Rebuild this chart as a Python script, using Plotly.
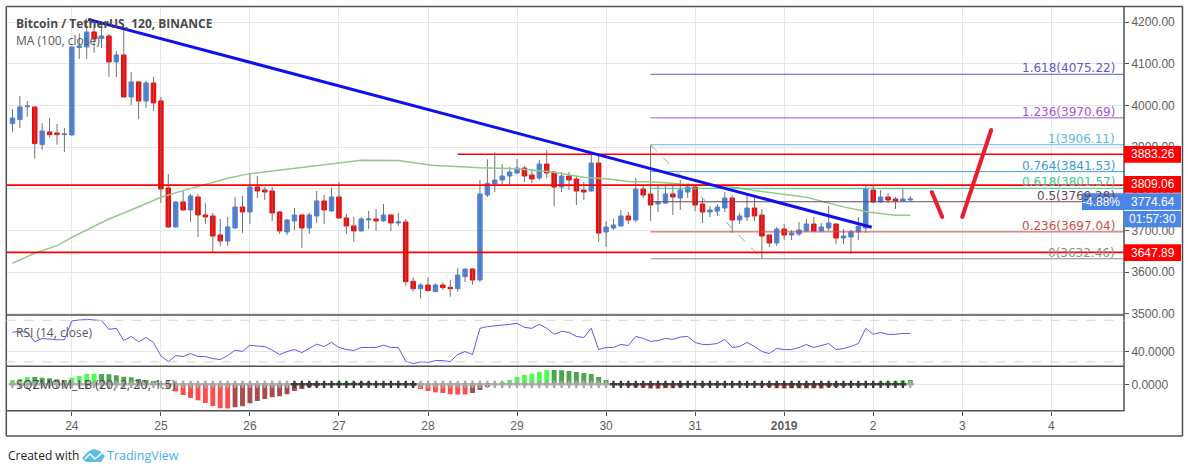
import pandas as pd
import plotly.graph_objects as go

# 2 hour candles
opens = [3956.8, 3966.4, 3997.6, 3996.8, 3906.4, 3936.8, 3934.4, 3930.4, 3929.6, 4139.2, 4140.8, 4176.8, 4160.8, 4167.2, 4104.8, 4121.6, 4020.8, 4056.8, 4011.2, 4054.4,
         4011.2, 3802.4, 3708.8, 3768.8, 3749.6, 3780.8, 3737.6, 3735.2, 3689.6, 3675.2, 3706.4, 3756.8, 3744.8, 3804.8, 3797.6, 3795.2, 3744.8, 3696.8, 3723.2, 3737.6,
         3706.4, 3735.2, 3771.2, 3747.2, 3780.8, 3730.4, 3711.2, 3699.2, 3725.6, 3728.0, 3723.2, 3737.6, 3718.4, 3720.7, 3578.3, 3560.7, 3569.5, 3553.5, 3569.5, 3563.9,
         3560.7, 3589.5, 3607.9, 3581.5, 3785.5, 3811.9, 3821.5, 3831.1, 3838.3, 3850.3, 3833.5, 3826.3, 3859.9, 3840.7, 3804.7, 3831.1, 3823.9, 3797.5, 3795.1, 3862.3,
         3696.7, 3706.3, 3711.1, 3735.1, 3725.5, 3799.9, 3787.9, 3763.9, 3766.3, 3787.9, 3778.3, 3792.7, 3804.7, 3763.9, 3744.7, 3747.1, 3754.3, 3778.3, 3725.5, 3732.7,
         3754.3, 3737.5, 3689.5, 3670.3, 3703.9, 3689.5, 3691.9, 3699.1, 3715.9, 3699.1, 3706.3, 3715.9, 3682.3, 3684.7, 3696.7, 3706.3, 3797.5, 3768.7, 3780.7, 3775.9,
         3771.1, 3773.5]
highs = [3992.0, 4023.2, 4011.2, 3998.0, 3957.6, 3970.4, 3956.0, 3946.4, 4142.0, 4173.6, 4209.6, 4193.6, 4196.0, 4172.0, 4131.2, 4181.6, 4080.8, 4059.2, 4059.2, 4068.8,
         4020.8, 3836.0, 3770.0, 3795.2, 3788.0, 3788.0, 3766.4, 3742.4, 3728.0, 3732.8, 3780.8, 3783.2, 3837.6, 3831.2, 3804.8, 3804.8, 3747.2, 3728.0, 3754.4, 3738.5,
         3742.4, 3795.2, 3785.6, 3802.4, 3816.8, 3740.0, 3732.8, 3732.8, 3747.2, 3752.0, 3764.0, 3738.5, 3742.4, 3727.9, 3587.9, 3573.5, 3587.9, 3573.5, 3575.9, 3581.5,
         3609.5, 3609.0, 3609.5, 3821.5, 3871.1, 3887.9, 3859.9, 3852.7, 3871.9, 3855.1, 3847.9, 3869.5, 3893.5, 3842.0, 3840.7, 3840.7, 3831.1, 3816.7, 3881.5, 3885.5,
         3723.1, 3727.9, 3749.5, 3744.7, 3826.3, 3809.5, 3905.5, 3809.5, 3809.5, 3809.5, 3821.5, 3811.9, 3811.9, 3778.3, 3759.1, 3763.9, 3792.7, 3785.5, 3742.3, 3785.5,
         3778.3, 3751.9, 3690.5, 3708.7, 3715.9, 3701.5, 3720.7, 3727.9, 3732.7, 3718.3, 3759.1, 3717.0, 3703.9, 3701.5, 3732.7, 3809.5, 3809.5, 3797.5, 3790.3, 3780.7,
         3802.3, 3783.1]
lows = [3936.8, 3946.4, 3973.6, 3872.8, 3894.4, 3923.2, 3906.4, 3888.8, 3928.0, 4112.0, 4112.0, 4127.2, 4138.4, 4068.8, 4068.8, 4020.0, 4001.6, 3968.0, 3994.4, 3987.2,
        3766.4, 3706.4, 3707.0, 3748.0, 3720.8, 3684.8, 3716.0, 3648.8, 3663.2, 3663.2, 3705.0, 3694.4, 3716.0, 3778.4, 3773.6, 3723.2, 3692.0, 3689.6, 3701.6, 3658.4,
        3692.0, 3718.4, 3716.0, 3746.0, 3728.0, 3692.0, 3672.8, 3698.0, 3704.0, 3699.2, 3722.0, 3699.2, 3711.2, 3567.9, 3553.5, 3536.7, 3553.5, 3552.5, 3557.5, 3541.5,
        3553.5, 3576.7, 3570.3, 3577.5, 3780.7, 3792.7, 3811.9, 3807.1, 3835.9, 3816.7, 3814.3, 3821.5, 3826.3, 3759.1, 3792.7, 3797.5, 3761.5, 3773.5, 3794.0, 3672.7,
        3660.7, 3701.5, 3710.0, 3715.9, 3720.7, 3778.3, 3723.1, 3744.7, 3764.0, 3737.5, 3749.5, 3778.3, 3747.1, 3718.3, 3732.7, 3735.1, 3744.7, 3694.3, 3715.9, 3723.1,
        3723.1, 3631.9, 3660.7, 3663.1, 3677.5, 3677.5, 3687.1, 3698.0, 3698.0, 3698.0, 3699.1, 3667.9, 3667.9, 3643.9, 3677.5, 3694.3, 3766.3, 3767.5, 3766.3, 3751.9,
        3770.0, 3771.1]
closes = [3970.4, 3996.8, 3999.2, 3908.8, 3939.2, 3930.4, 3930.4, 3932.0, 4140.8, 4143.2, 4176.8, 4160.0, 4167.2, 4104.8, 4121.6, 4020.8, 4056.8, 4011.2, 4054.4, 4006.4,
          3800.0, 3708.8, 3768.8, 3749.6, 3783.2, 3737.6, 3732.8, 3687.2, 3675.2, 3708.8, 3756.8, 3744.8, 3804.8, 3795.2, 3792.8, 3742.4, 3699.2, 3725.6, 3737.6, 3706.4,
          3737.6, 3771.2, 3749.6, 3780.8, 3730.4, 3711.2, 3699.2, 3728.0, 3728.0, 3723.2, 3737.6, 3718.4, 3720.8, 3577.5, 3560.7, 3569.5, 3555.9, 3569.5, 3563.1, 3560.7,
          3593.5, 3607.9, 3581.5, 3787.9, 3813.5, 3821.5, 3831.1, 3840.7, 3850.3, 3831.1, 3823.9, 3859.9, 3838.3, 3804.7, 3831.1, 3821.5, 3795.1, 3792.7, 3862.3, 3694.3,
          3708.7, 3713.5, 3735.1, 3725.5, 3799.9, 3785.5, 3761.5, 3768.7, 3787.9, 3780.7, 3797.5, 3804.7, 3761.5, 3744.7, 3749.5, 3756.7, 3778.3, 3725.5, 3735.1, 3754.3,
          3735.1, 3687.1, 3670.3, 3703.9, 3689.5, 3694.3, 3701.5, 3715.9, 3699.1, 3708.7, 3718.3, 3682.3, 3687.1, 3696.7, 3710.3, 3799.9, 3768.7, 3780.7, 3773.5, 3771.1,
          3775.9, 3775.9]

# MA (100) read at the bends of the line
ma_times = ['2018-12-23 08:00', '2018-12-23 14:00', '2018-12-23 20:00', '2018-12-24 00:00', '2018-12-24 04:00', '2018-12-24 10:00', '2018-12-24 16:00',
            '2018-12-25 00:00', '2018-12-25 06:00', '2018-12-25 12:00', '2018-12-25 18:00', '2018-12-26 00:00', '2018-12-26 12:00', '2018-12-27 02:00',
            '2018-12-27 06:00', '2018-12-27 16:00', '2018-12-28 01:00', '2018-12-28 14:00', '2018-12-29 00:00', '2018-12-29 09:00', '2018-12-29 18:00',
            '2018-12-30 00:00', '2018-12-30 06:00', '2018-12-30 13:00', '2018-12-30 20:00', '2018-12-31 08:00', '2018-12-31 17:00', '2019-01-01 06:00',
            '2019-01-01 16:00', '2019-01-01 23:00', '2019-01-02 06:00', '2019-01-02 10:00']
ma_values = [3621.6, 3645.6, 3664.0, 3684.0, 3701.6, 3728.0, 3749.6, 3780.0, 3796.0, 3811.0, 3825.6, 3836.8, 3849.6, 3865.6, 3868.8, 3868.0,
             3856.7, 3851.0, 3848.7, 3841.5, 3828.0, 3824.7, 3818.0, 3816.7, 3812.0, 3807.0, 3795.0, 3780.0, 3757.0, 3744.0, 3737.0, 3737.0]

rsi_values = [58.4, 59.7, 58.1, 49.4, 52.6, 51.6, 51.3, 51.3, 69.4, 70.3, 71.0, 70.3, 69.7, 61.3, 62.3, 50.6, 54.5, 49.4, 53.5, 48.7,
              35.8, 30.3, 36.1, 35.2, 38.1, 35.2, 35.2, 33.2, 32.3, 36.1, 41.3, 40.0, 46.1, 45.2, 44.8, 41.3, 37.1, 40.0, 41.9, 39.0,
              42.9, 47.1, 44.8, 48.7, 43.9, 41.9, 41.0, 43.9, 43.9, 43.9, 46.1, 43.9, 43.9, 30.6, 28.4, 30.0, 29.4, 31.3, 31.3, 30.3,
              37.1, 40.0, 37.1, 62.3, 63.9, 64.5, 64.8, 66.1, 67.1, 63.2, 62.3, 66.1, 62.3, 56.5, 59.4, 58.4, 54.5, 53.5, 62.3, 41.9,
              43.9, 43.9, 46.8, 45.8, 54.5, 52.6, 49.7, 50.6, 52.6, 51.6, 53.9, 54.5, 48.7, 46.8, 46.8, 47.7, 51.6, 43.9, 44.8, 48.7,
              44.8, 40.0, 38.1, 42.9, 41.9, 41.9, 43.9, 46.8, 43.9, 45.5, 47.7, 41.9, 42.9, 44.8, 47.7, 62.3, 56.5, 58.4, 56.5, 56.5,
              57.4, 57.4]

sqz_values = [43, 53, 73, 73, 66, 60, 50, 43, 66, 83, 103, 105, 102, 100, 90, 76, 70, 53, 43, 33,
              10, -33, -73, -107, -137, -160, -187, -217, -240, -243, -230, -220, -190, -167, -147, -130, -120, -100, -67, -47,
              -30, -20, 3, 10, 15, 20, 19, 15, 13, 10, 8, 6, 3, -3, -20, -47, -67, -80, -87, -100,
              -102, -103, -87, -57, -27, 3, 23, 43, 73, 93, 103, 123, 143, 142, 141, 133, 123, 113, 103, 73,
              43, 3, -3, -20, -33, -34, -43, -44, -37, -40, -30, -10, -7, -15, -7, -5, -5, -4, -4, -4,
              -4, -20, -30, -40, -43, -40, -40, -40, -40, -43, -30, -27, -20, -10, -15, -4, 4, 23, 27, 33,
              43, 43]
# first and last bar of each stretch with black crosses
squeeze_on = [(38, 54), (81, 120)]

tick_times = ['2018-12-24', '2018-12-25', '2018-12-26', '2018-12-27', '2018-12-28', '2018-12-29', '2018-12-30', '2018-12-31',
              '2019-01-01', '2019-01-02', '2019-01-03', '2019-01-04']
tick_labels = ['24', '25', '26', '27', '28', '29', '30', '31', '<b>2019</b>', '2', '3', '4']

fib_start = '2018-12-30 12:00'
fib_low_time = '2018-12-31 18:00'
fib_levels = [1.618, 1.236, 1, 0.764, 0.618, 0.5, 0.236, 0]
fib_prices = [4075.22, 3970.69, 3906.11, 3841.53, 3801.57, 3769.28, 3697.04, 3632.46]
fib_colors = ['#5a5acb', '#a653d6', '#62b7e0', '#3c9cd6', '#3fc78f', '#6a4658', '#d24a4a', '#8c8c8c']

x_start = '2018-12-23 06:20'
x_end = '2019-01-04 19:36'
level_times = ['2018-12-28 08:00', x_start, x_start]
level_prices = [3883.26, 3809.06, 3647.89]
trend_times = ['2018-12-24 04:24', '2019-01-01 23:36']
trend_prices = [4207, 3708]
down_times = ['2019-01-02 15:48', '2019-01-02 18:36']
down_prices = [3792.7, 3732.7]
up_times = ['2019-01-03 00:00', '2019-01-03 07:48']
up_prices = [3732.7, 3941.5]

UP = '#4a86e8'
DOWN = '#ff0000'
WICK = '#737375'
GRID = '#e6e6e6'
FRAME = '#505050'
AXIS_TEXT = '#5e5e5e'
W, H = 1188, 467


def px(x):
    return x / W


def py(y):
    return 1 - y / H


times = pd.date_range('2018-12-23 08:00', periods=len(closes), freq='2h')

fig = go.Figure()

# wicks, grey, separate from the bodies
wick_x, wick_y = [], []
for t, h, l in zip(times, highs, lows):
    wick_x += [t, t, None]
    wick_y += [l, h, None]
fig.add_trace(go.Scatter(x=wick_x, y=wick_y, mode='lines', line=dict(color=WICK, width=1)))

body_top = [max(o, c) for o, c in zip(opens, closes)]
body_bottom = [min(o, c) for o, c in zip(opens, closes)]
fig.add_trace(go.Candlestick(
    x=times, open=opens, high=body_top, low=body_bottom, close=closes, whiskerwidth=0,
    increasing=dict(line=dict(color=UP, width=1), fillcolor=UP),
    decreasing=dict(line=dict(color=DOWN, width=1), fillcolor=DOWN),
))
fig.add_trace(go.Scatter(x=ma_times, y=ma_values, mode='lines', line=dict(color='#93c98a', width=1.5)))

# fibonacci levels
for price, color in zip(fib_prices, fib_colors):
    fig.add_trace(go.Scatter(x=[fib_start, x_end], y=[price, price], mode='lines', line=dict(color=color, width=1)))
fig.add_trace(go.Scatter(x=[fib_start, fib_low_time], y=[fib_prices[2], fib_prices[-1]], mode='lines',
                         line=dict(color='#a0a0a0', width=1, dash='dash')))

for t, price in zip(level_times, level_prices):
    fig.add_trace(go.Scatter(x=[t, x_end], y=[price, price], mode='lines', line=dict(color='#ff0000', width=1.7)))
fig.add_trace(go.Scatter(x=trend_times, y=trend_prices, mode='lines', line=dict(color='#1010ee', width=3)))
for xs, ys in [(down_times, down_prices), (up_times, up_prices)]:
    fig.add_trace(go.Scatter(x=xs, y=ys, mode='lines+markers', line=dict(color='#e8202c', width=4),
                             marker=dict(color='#e8202c', size=4)))

# RSI pane
fig.add_trace(go.Scatter(x=times, y=rsi_values, yaxis='y2', mode='lines', line=dict(color='#5a5af5', width=1)))

# squeeze momentum pane, colours follow the direction of the histogram
sqz_colors = []
for i, v in enumerate(sqz_values):
    prev = sqz_values[i - 1] if i else 0
    if v > 0:
        sqz_colors.append('#4dff4d' if v > prev else '#4da64d')
    else:
        sqz_colors.append('#ff4d4d' if v < prev else '#a64d4d')
fig.add_trace(go.Bar(x=times, y=sqz_values, yaxis='y3', marker=dict(color=sqz_colors, line=dict(width=0))))
cross_colors = ['#3a3a3a' if any(a <= i <= b for a, b in squeeze_on) else '#a8a8a8' for i in range(len(times))]
fig.add_trace(go.Scatter(x=times, y=[0] * len(times), yaxis='y3', mode='markers',
                         marker=dict(symbol='cross', size=6, color=cross_colors, line=dict(width=0))))

# panes frame
shapes = []
frame = [(6.3, 6.5, 1182.5, 6.5), (6.3, 436, 1182.5, 436), (6.3, 6.5, 6.3, 436), (1182.5, 6.5, 1182.5, 436),
         (1124, 6.5, 1124, 411), (6.3, 315, 1124, 315), (6.3, 366.3, 1124, 366.3), (6.3, 410.7, 1124, 410.7)]
for x0, y0, x1, y1 in frame:
    shapes.append(dict(type='line', xref='paper', yref='paper', x0=px(x0), y0=py(y0), x1=px(x1), y1=py(y1),
                       line=dict(color=FRAME, width=1.5)))
for band in [70, 30]:
    shapes.append(dict(type='line', xref='x domain', yref='y2', x0=0, x1=1, y0=band, y1=band,
                       line=dict(color='#d4d4d4', width=1, dash='dash')))

# price labels on the axis
boxes = [(1124, 146, 1181, 162.7, '#ff0000'), (1124, 176, 1181, 192.7, '#ff0000'), (1082, 193.3, 1181, 210, UP),
         (1124, 210.7, 1181, 227.3, UP), (1124, 244.3, 1181, 261, '#ff0000')]
for x0, y0, x1, y1, color in boxes:
    shapes.append(dict(type='rect', xref='paper', yref='paper', x0=px(x0), y0=py(y0), x1=px(x1), y1=py(y1),
                       fillcolor=color, line=dict(width=0), layer='above'))
shapes.append(dict(type='line', xref='paper', yref='paper', x0=px(1124), x1=px(1181), y0=py(210.4), y1=py(210.4),
                   line=dict(color='#ffffff', width=1)))

# TradingView logo
shapes.append(dict(type='path', xref='paper', yref='paper', fillcolor='#5bbce6', line=dict(width=0),
                   path='M {} {} L {} {} L {} {} L {} {} L {} {} L {} {} L {} {} Z'.format(
                       px(82), py(458), px(89), py(451), px(94), py(449), px(100), py(451), px(105), py(456),
                       px(101), py(462), px(86), py(462))))
shapes.append(dict(type='path', xref='paper', yref='paper', line=dict(color='#ffffff', width=1.5),
                   path='M {} {} L {} {} L {} {} L {} {}'.format(px(85), py(459), px(90), py(454), px(95), py(459), px(102), py(453))))

annotations = []


def label(x, y, text, color, size, family='Liberation Sans', anchor='left'):
    annotations.append(dict(x=px(x), y=py(y), xref='paper', yref='paper', text=text, showarrow=False,
                            xanchor=anchor, yanchor='middle', borderpad=0,
                            font=dict(family=family, size=size, color=color)))


label(15, 23.5, '<b>Bitcoin / TetherUS, 120, BINANCE</b>', '#4a4a4a', 12, 'Open Sans')
label(15, 40.5, 'MA (100, close)', '#5a5a5a', 12, 'Open Sans')
label(15, 332.7, 'RSI (14, close)', '#5a5a5a', 12, 'Open Sans')
label(15, 384, 'SQZMOM_LB (20, 2, 20, 1.5)', '#4a4a4a', 12.5, 'Open Sans')

for lvl, price, color in zip(fib_levels, fib_prices, fib_colors):
    annotations.append(dict(x=px(1116), xref='paper', y=price, yref='y', text='{}({})'.format(lvl, price), showarrow=False,
                            xanchor='right', yanchor='bottom', borderpad=0, yshift=-2,
                            font=dict(family='DejaVu Sans', size=12, color=color)))

for y, text in [(154.3, '3883.26'), (184.3, '3809.06'), (201.7, '3774.64'), (219, '01:57:30'), (252.6, '3647.89')]:
    label(1152.5, y, text, '#ffffff', 12, 'Liberation Sans', anchor='center')
label(1121, 201.7, '-4.88%', '#ffffff', 12, 'Liberation Sans', anchor='right')

label(6.5, 455.5, 'Created with', '#222222', 12, 'Open Sans')
label(105.5, 455.5, 'TradingView', '#45b1e5', 12.5, 'Open Sans')

axis_font = dict(family='Liberation Sans', size=12, color=AXIS_TEXT)
fig.update_layout(
    width=W, height=H, margin=dict(l=0, r=0, t=0, b=0, pad=0, autoexpand=False), autosize=False,
    paper_bgcolor='#ffffff', plot_bgcolor='#ffffff', showlegend=False,
    boxgap=0.4, boxgroupgap=0, bargap=0.34,
    shapes=shapes, annotations=annotations,
    xaxis=dict(domain=[px(6.3), px(1124)], range=[x_start, x_end], type='date', anchor='y3', rangeslider=dict(visible=False),
               tickmode='array', tickvals=tick_times, ticktext=tick_labels, ticks='outside', ticklen=4, tickcolor=FRAME,
               tickfont=axis_font, showgrid=True, gridcolor=GRID, gridwidth=1, zeroline=False, automargin=False),
    yaxis=dict(domain=[py(315), py(6.5)], range=[3497.5, 4237.9], side='right', anchor='x', tickvals=[3500, 3600, 3700, 3800, 3900, 4000, 4100, 4200],
               tickformat='.2f', ticks='outside', ticklen=4, tickcolor=FRAME, tickfont=axis_font,
               showgrid=True, gridcolor=GRID, zeroline=False, automargin=False),
    yaxis2=dict(domain=[py(366.3), py(315)], range=[25.8, 75.1], side='right', anchor='x', tickvals=[40], tickformat='.4f',
                ticks='outside', ticklen=4, tickcolor=FRAME, tickfont=axis_font,
                showgrid=True, gridcolor=GRID, zeroline=False, automargin=False),
    yaxis3=dict(domain=[py(410.7), py(366.3)], range=[-264, 180], side='right', anchor='x', tickvals=[0], tickformat='.4f',
                ticks='outside', ticklen=4, tickcolor=FRAME, tickfont=axis_font,
                showgrid=True, gridcolor=GRID, zeroline=False, automargin=False),
)

fig.write_html("out.html", config=dict(displayModeBar=False), post_script="document.body.style.margin='0';")
